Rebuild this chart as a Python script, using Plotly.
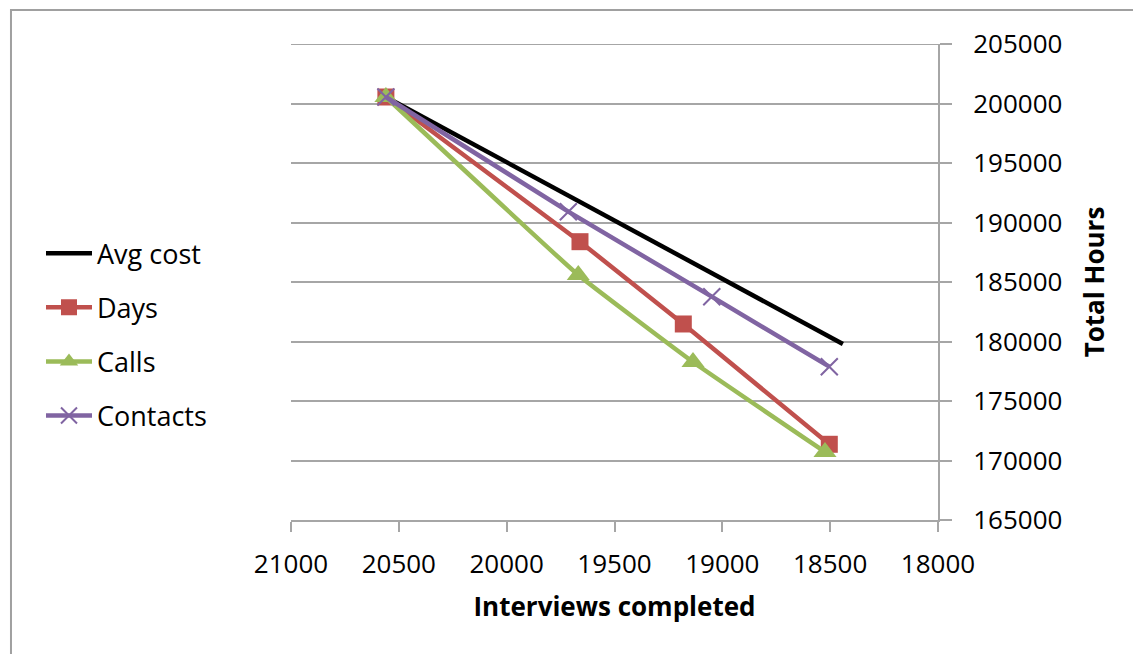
import plotly.graph_objects as go

# Interviews completed (x) against total hours (y) for each scenario
avg_cost_x = [20560, 18441]
avg_cost_y = [200550, 179790]

days_x = [20560, 19660, 19181, 18504]
days_y = [200546, 188387, 181472, 171363]

calls_x = [20560, 19668, 19136, 18524]
calls_y = [200546, 185589, 178278, 170716]

contacts_x = [20560, 19714, 19049, 18504]
contacts_y = [200546, 190908, 183766, 177883]

x_ticks = [21000, 20500, 20000, 19500, 19000, 18500, 18000]
y_ticks = [165000, 170000, 175000, 180000, 185000, 190000, 195000, 200000, 205000]

FONT = "Open Sans"
GRID = "#a6a6a6"

fig = go.Figure()

fig.add_trace(go.Scatter(
    x=avg_cost_x, y=avg_cost_y, name="Avg cost", mode="lines",
    line=dict(color="#000000", width=4.5), legendgroup="a",
))
fig.add_trace(go.Scatter(
    x=days_x, y=days_y, name="Days", mode="lines+markers",
    line=dict(color="#c0504d", width=4.5),
    marker=dict(symbol="square", size=17, color="#c0504d"), legendgroup="b",
))
fig.add_trace(go.Scatter(
    x=calls_x, y=calls_y, name="Calls", mode="lines+markers",
    line=dict(color="#9bbb59", width=4.5, shape="spline", smoothing=0.3),
    marker=dict(symbol="triangle-up", size=20, color="#9bbb59"), legendgroup="c",
))
fig.add_trace(go.Scatter(
    x=contacts_x, y=contacts_y, name="Contacts", mode="lines+markers",
    line=dict(color="#8064a2", width=4.5),
    marker=dict(symbol="x-thin", size=17, color="#8064a2",
                line=dict(color="#8064a2", width=2)), legendgroup="d",
))

# Chart outline
fig.add_shape(type="rect", xref="paper", yref="paper",
              x0=-0.4328, x1=2, y0=-1, y1=1.0714,
              line=dict(color="#a0a0a0", width=2), layer="below")

# Gridline at the top of the value axis
fig.add_shape(type="line", xref="paper", yref="y",
              x0=0, x1=1, y0=y_ticks[-1], y1=y_ticks[-1],
              line=dict(color=GRID, width=2), layer="below")

fig.update_layout(
    width=1133, height=654,
    margin=dict(l=291, r=195, t=44, b=134),
    paper_bgcolor="white", plot_bgcolor="white",
    font=dict(family=FONT, size=26, color="#000000"),
    showlegend=True,
    legend=dict(
        x=-0.3864, xanchor="left", y=0.611, yanchor="top",
        font=dict(family=FONT, size=27),
        tracegroupgap=16, itemwidth=46, bgcolor="rgba(0,0,0,0)",
    ),
    xaxis=dict(
        range=[21000, 18000], tickvals=x_ticks, tickformat="d",
        showgrid=False, zeroline=False,
        showline=True, linecolor=GRID, linewidth=2,
        ticks="outside", ticklen=10, tickwidth=2, tickcolor=GRID,
        ticklabelstandoff=10,
        title=dict(text="<b>Interviews completed</b>", font=dict(size=26), standoff=18),
    ),
    yaxis=dict(
        range=[165000, 205000], tickvals=y_ticks, tickformat="d", side="right",
        showgrid=True, gridcolor=GRID, gridwidth=2, zeroline=False,
        showline=True, linecolor=GRID, linewidth=2,
        ticks="outside", ticklen=12, tickwidth=2, tickcolor=GRID,
        ticklabelstandoff=16,
        title=dict(text="<b>Total Hours</b>", font=dict(size=26), standoff=24),
    ),
)

fig.write_html("out.html")
